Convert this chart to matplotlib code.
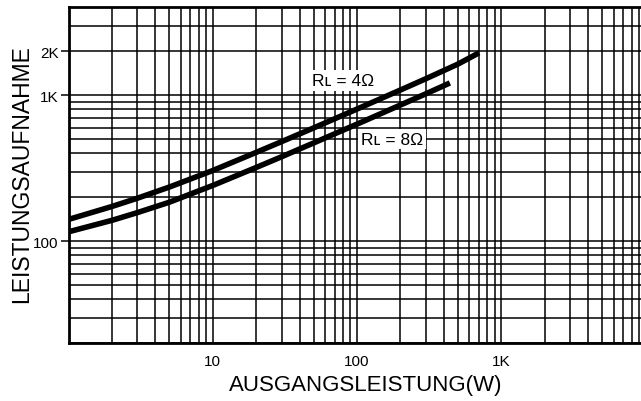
import matplotlib
matplotlib.use("Agg")
import matplotlib.pyplot as plt
from matplotlib.ticker import FixedLocator, LogLocator, NullFormatter, FixedFormatter

plt.rcParams['font.family'] = ['Liberation Sans', 'DejaVu Sans']

# Data
x_4ohm = [1, 2, 3, 5, 10, 20, 30, 50, 100, 200, 300, 500, 700]
y_4ohm = [141, 173, 197, 235, 305, 406, 481, 597, 804, 1086, 1297, 1633, 1950]
x_8ohm = [1, 2, 3, 5, 10, 20, 30, 50, 100, 200, 300, 440]
y_8ohm = [116, 139, 157, 185, 241, 320, 379, 471, 634, 857, 1023, 1213]

x_ticks = [10, 100, 1000]
x_ticklabels = ["10", "100", "1K"]
y_ticks = [100, 1000, 2000]
y_ticklabels = ["100", "1K", "2K"]

label_4 = "Rʟ = 4Ω"
label_8 = "Rʟ = 8Ω"

W, H = 641, 402
fig = plt.figure(figsize=(W / 100, H / 100), dpi=100)
left, right, top, bottom = 68.5, 645.6, 8.3, 344.3
ax = fig.add_axes([left / W, 1 - bottom / H, (right - left) / W, (bottom - top) / H])

ax.set_xscale('log')
ax.set_yscale('log')
ax.set_xlim(1, 10000)
ax.set_ylim(20, 4000)

ax.plot(x_4ohm, y_4ohm, color='black', lw=4.0, solid_capstyle='butt',
        solid_joinstyle='round', zorder=3)
ax.plot(x_8ohm, y_8ohm, color='black', lw=4.0, solid_capstyle='butt',
        solid_joinstyle='round', zorder=3)

ax.xaxis.set_major_locator(FixedLocator(x_ticks))
ax.xaxis.set_major_formatter(FixedFormatter(x_ticklabels))
ax.xaxis.set_minor_locator(LogLocator(base=10, subs=range(1, 10), numticks=20))
ax.xaxis.set_minor_formatter(NullFormatter())
ax.yaxis.set_major_locator(FixedLocator(y_ticks))
ax.yaxis.set_major_formatter(FixedFormatter(y_ticklabels))
ax.yaxis.set_minor_locator(LogLocator(base=10, subs=range(1, 10), numticks=20))
ax.yaxis.set_minor_formatter(NullFormatter())

ax.grid(True, which='both', color='black', lw=1.1)
ax.tick_params(axis='x', which='both', length=0, labelsize=11, pad=8)
ax.tick_params(axis='y', which='major', length=6, width=1.1, labelsize=11, pad=1)
ax.tick_params(axis='y', which='minor', length=0)

for s in ax.spines.values():
    s.set_linewidth(2.0)
    s.set_color('black')

ax.text(80, 1265, label_4, fontsize=12.5, ha='center', va='center', zorder=4,
        bbox=dict(facecolor='white', edgecolor='none', pad=2.0))
ax.text(175, 501, label_8, fontsize=12.5, ha='center', va='center', zorder=4,
        bbox=dict(facecolor='white', edgecolor='none', pad=2.0))

fig.text(366 / W, 1 - 386 / H, "AUSGANGSLEISTUNG(W)", fontsize=16, ha='center', va='center')
fig.text(22 / W, 1 - 174 / H, "LEISTUNGSAUFNAHME", fontsize=16.5, ha='center', va='center', rotation=90)

fig.savefig("out.png", dpi=100)
